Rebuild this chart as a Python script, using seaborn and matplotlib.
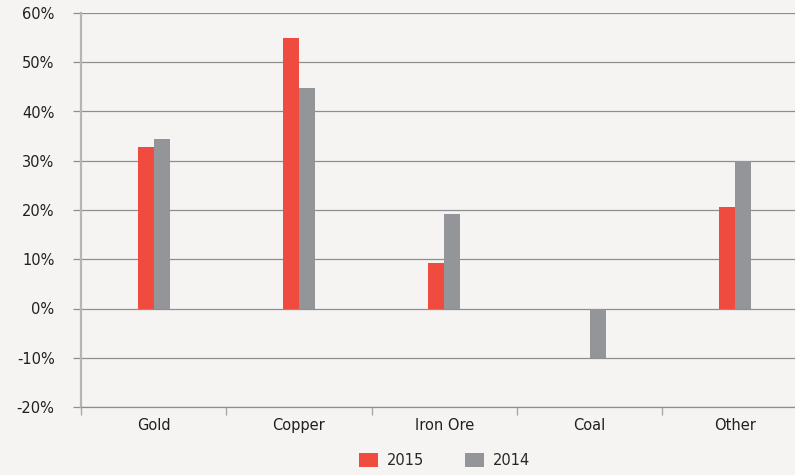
import matplotlib
matplotlib.use("Agg")
import matplotlib.pyplot as plt
import seaborn as sns
import pandas as pd
from matplotlib.patches import Patch
from matplotlib.ticker import FixedLocator

categories = ["Gold", "Copper", "Iron Ore", "Coal", "Other"]
values_2015 = [32.7, 55.0, 9.3, 0.0, 20.7]
values_2014 = [34.5, 44.7, 19.1, -10.0, 30.0]
series = ["2015", "2014"]
y_ticks = [-20, -10, 0, 10, 20, 30, 40, 50, 60]

RED = "#f04b3f"
GREY = "#939598"
BG = "#f5f4f2"
GRID = "#8e8e8e"

df = pd.DataFrame({
    "cat": categories * 2,
    "val": values_2015 + values_2014,
    "year": [series[0]] * len(categories) + [series[1]] * len(categories),
})

sns.set_theme(style="white")
plt.rcParams["font.family"] = ["Liberation Sans Narrow", "DejaVu Sans"]

fig = plt.figure(figsize=(7.95, 4.75), dpi=100, facecolor=BG)
ax = fig.add_axes([81 / 795, 68 / 475, 726.5 / 795, 394 / 475])
ax.set_facecolor(BG)

sns.barplot(data=df, x="cat", y="val", hue="year", hue_order=series,
            palette=[RED, GREY], width=0.22, gap=0, saturation=1,
            legend=False, ax=ax, errorbar=None, linewidth=0)

ax.set_xlim(-0.5, 4.5)
ax.set_ylim(-20, 60)
ax.set_yticks(y_ticks)
ax.set_yticklabels([f"{v}%" for v in y_ticks])
ax.set_xlabel("")
ax.set_ylabel("")

ax.grid(axis="y", color=GRID, linewidth=0.9)
ax.grid(axis="x", visible=False)
ax.set_axisbelow(True)

for s in ["top", "right"]:
    ax.spines[s].set_visible(False)
ax.spines["left"].set_color("#b5b5b5")
ax.spines["left"].set_linewidth(1.6)
ax.spines["bottom"].set_color(GRID)
ax.spines["bottom"].set_linewidth(0.9)

ax.tick_params(axis="y", length=6, width=0.9, color=GRID, pad=13,
               labelsize=10.5, labelcolor="#231f20", left=True)
ax.tick_params(axis="x", which="major", length=0, pad=8,
               labelsize=10.5, labelcolor="#231f20")
ax.xaxis.set_minor_locator(FixedLocator([-0.5, 0.5, 1.5, 2.5, 3.5, 4.5]))
ax.tick_params(axis="x", which="minor", length=6, width=1.0, color="#aaaaaa",
               bottom=True)

handles = [Patch(facecolor=RED, edgecolor="none"), Patch(facecolor=GREY, edgecolor="none")]
ax.legend(handles, series, loc="center", bbox_to_anchor=(0.5, -0.135),
          ncol=2, frameon=False, fontsize=10.5, handlelength=1.3,
          handleheight=1.1, columnspacing=2.8, handletextpad=0.6)

fig.savefig("out.png", dpi=100, facecolor=BG)
